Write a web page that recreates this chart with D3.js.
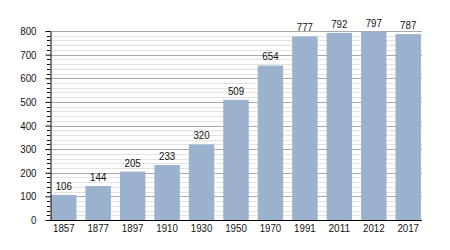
<!DOCTYPE html>
<html><head><meta charset="utf-8">
<script src="https://cdn.jsdelivr.net/npm/d3@7"></script>
<style>body{margin:0;background:#fff}svg{display:block}text{font-family:"Liberation Sans",Arial,sans-serif}</style>
</head><body>
<svg id="c" width="450" height="250"></svg>
<script>
const years = ["1857","1877","1897","1910","1930","1950","1970","1991","2011","2012","2017"];
const population = [106,144,205,233,320,509,654,777,792,797,787];
const yTicks = [0,100,200,300,400,500,600,700,800];

const svg = d3.select("#c");
const x = d3.scaleBand().domain(years).range([50,422]).paddingInner(0.26).paddingOuter(0.03);
const y = d3.scaleLinear().domain([0,800]).range([220,31]);
const narrow = sel => sel.attr("textLength", function(){ return this.textContent.length*5.4; })
  .attr("lengthAdjust","spacingAndGlyphs");

const minor = d3.range(0,801,20).filter(v => v % 100 !== 0);
svg.append("g").selectAll("line").data(minor).join("line")
  .attr("x1",50).attr("x2",422).attr("y1",d=>Math.round(y(d))+0.5).attr("y2",d=>Math.round(y(d))+0.5)
  .attr("stroke","#e2e2e2").attr("stroke-width",1);
svg.append("g").selectAll("line").data(yTicks.filter(v=>v>0)).join("line")
  .attr("x1",50).attr("x2",422).attr("y1",d=>Math.round(y(d))+0.5).attr("y2",d=>Math.round(y(d))+0.5)
  .attr("stroke","#aaaaaa").attr("stroke-width",1);

svg.append("g").selectAll("rect").data(years).join("rect")
  .attr("x",d=>x(d)).attr("width",x.bandwidth())
  .attr("y",(d,i)=>y(population[i])).attr("height",(d,i)=>y(0)-y(population[i]))
  .attr("fill","#9bb2ce");

svg.append("g").selectAll("text").data(years).join("text")
  .attr("x",d=>x(d)+x.bandwidth()/2).attr("y",(d,i)=>y(population[i])-5)
  .attr("text-anchor","middle").attr("font-size",11).attr("fill","#111")
  .text((d,i)=>population[i]).call(narrow);

svg.append("g").selectAll("line").data(minor).join("line")
  .attr("x1",47).attr("x2",50).attr("y1",d=>Math.round(y(d))+0.5).attr("y2",d=>Math.round(y(d))+0.5)
  .attr("stroke","#000");

const yAxis = svg.append("g").attr("transform","translate(50.5,0)")
  .call(d3.axisLeft(y).tickValues(yTicks).tickSize(5).tickSizeOuter(0).tickPadding(9));
yAxis.selectAll("text").attr("font-size",11).attr("fill","#111").style("font-family","Liberation Sans, Arial, sans-serif").call(narrow);
yAxis.selectAll("line,path").attr("stroke","#000");

const xAxis = svg.append("g").attr("transform","translate(0,220.5)")
  .call(d3.axisBottom(x).tickSize(0).tickSizeOuter(0).tickPadding(4));
xAxis.select("path").attr("d","M50,0H422").attr("stroke","#000");
xAxis.selectAll("text").attr("font-size",11).attr("fill","#111").style("font-family","Liberation Sans, Arial, sans-serif").call(narrow);
</script>
</body></html>
